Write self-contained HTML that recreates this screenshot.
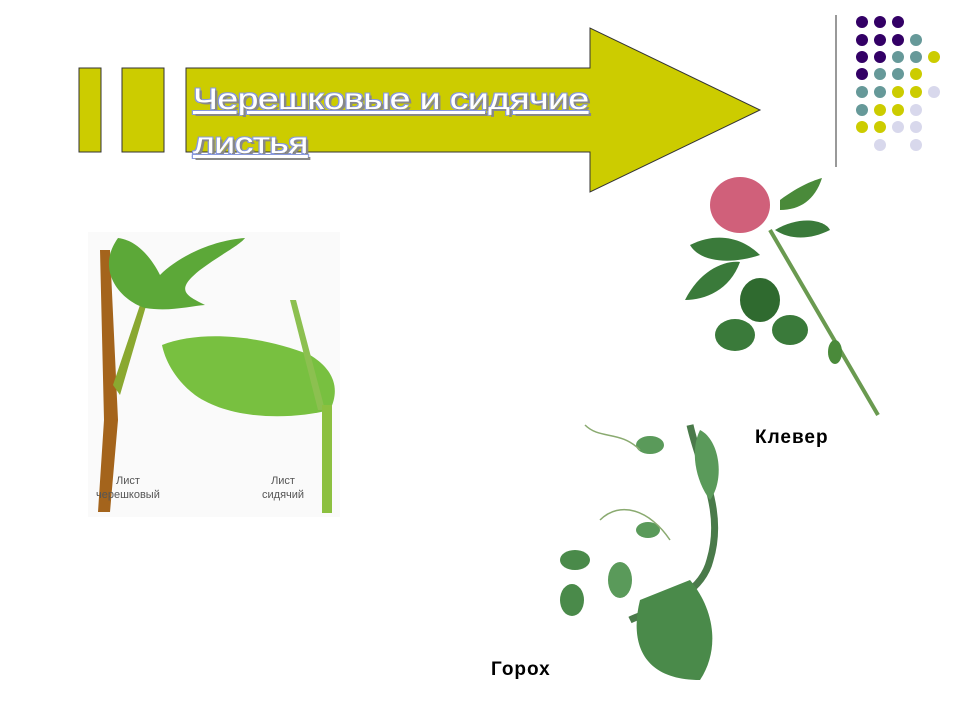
<!DOCTYPE html>
<html><head><meta charset="utf-8"><style>
body{margin:0;width:960px;height:720px;background:#fff;overflow:hidden;position:relative;font-family:"Liberation Sans",sans-serif}
.t{position:absolute;left:193px;top:78px;font-size:30px;line-height:44px;color:#fff;text-decoration:underline;letter-spacing:-0.5px;text-shadow:2px 2px 0 #888,-1px -1px 0 #8899dd,1px -1px 0 #8899dd,-1px 1px 0 #8899dd;transform:scaleX(1.25);transform-origin:0 0;white-space:nowrap}
.l{position:absolute;font-size:11px;color:#555;text-align:center;line-height:14px}
.k{position:absolute;font-size:19px;color:#000;letter-spacing:1px;font-weight:bold}
</style></head><body>
<svg width="960" height="720" style="position:absolute;left:0;top:0">
<rect x="79" y="68" width="22" height="84" fill="#cccc00" stroke="#333" stroke-width="1"/>
<rect x="122" y="68" width="42" height="84" fill="#cccc00" stroke="#333" stroke-width="1"/>
<polygon points="186,68 590,68 590,28 760,110 590,192 590,152 186,152" fill="#cccc00" stroke="#333" stroke-width="1"/>
<line x1="836" y1="15" x2="836" y2="167" stroke="#333" stroke-width="1"/>
<g>
<circle cx="862" cy="22" r="6" fill="#330066"/><circle cx="880" cy="22" r="6" fill="#330066"/><circle cx="898" cy="22" r="6" fill="#330066"/>
<circle cx="862" cy="40" r="6" fill="#330066"/><circle cx="880" cy="40" r="6" fill="#330066"/><circle cx="898" cy="40" r="6" fill="#330066"/><circle cx="916" cy="40" r="6" fill="#669999"/>
<circle cx="862" cy="57" r="6" fill="#330066"/><circle cx="880" cy="57" r="6" fill="#330066"/><circle cx="898" cy="57" r="6" fill="#669999"/><circle cx="916" cy="57" r="6" fill="#669999"/><circle cx="934" cy="57" r="6" fill="#cccc00"/>
<circle cx="862" cy="74" r="6" fill="#330066"/><circle cx="880" cy="74" r="6" fill="#669999"/><circle cx="898" cy="74" r="6" fill="#669999"/><circle cx="916" cy="74" r="6" fill="#cccc00"/>
<circle cx="862" cy="92" r="6" fill="#669999"/><circle cx="880" cy="92" r="6" fill="#669999"/><circle cx="898" cy="92" r="6" fill="#cccc00"/><circle cx="916" cy="92" r="6" fill="#cccc00"/><circle cx="934" cy="92" r="6" fill="#d8d8ec"/>
<circle cx="862" cy="110" r="6" fill="#669999"/><circle cx="880" cy="110" r="6" fill="#cccc00"/><circle cx="898" cy="110" r="6" fill="#cccc00"/><circle cx="916" cy="110" r="6" fill="#d8d8ec"/>
<circle cx="862" cy="127" r="6" fill="#cccc00"/><circle cx="880" cy="127" r="6" fill="#cccc00"/><circle cx="898" cy="127" r="6" fill="#d8d8ec"/><circle cx="916" cy="127" r="6" fill="#d8d8ec"/>
<circle cx="880" cy="145" r="6" fill="#d8d8ec"/><circle cx="916" cy="145" r="6" fill="#d8d8ec"/>
</g>
<rect x="88" y="232" width="252" height="285" fill="#fafafa"/>
<path d="M100,250 L110,250 L118,420 L110,512 L98,512 L104,420 Z" fill="#a4641c"/>
<path d="M113,385 L140,305 L146,306 L120,395 Z" fill="#8aa830"/>
<path d="M118,238 C95,270 120,300 145,308 C170,312 190,306 205,305 C185,295 175,290 200,270 C220,255 240,245 245,238 C215,240 180,255 160,275 C150,255 135,240 118,238 Z" fill="#5ca838"/>
<path d="M162,345 C200,330 260,335 310,355 C335,370 340,390 330,410 C290,420 230,420 195,395 C175,380 165,360 162,345 Z" fill="#78c040"/>
<path d="M290,300 L296,300 L325,410 L318,410 Z" fill="#8cc050"/>
<rect x="322" y="405" width="10" height="108" fill="#8cc040"/>
</svg>
<div class="t">Черешковые и сидячие<br>листья</div>
<div class="l" style="left:96px;top:474px">Лист<br>черешковый</div>
<div class="l" style="left:262px;top:474px">Лист<br>сидячий</div>
<svg width="960" height="720" style="position:absolute;left:0;top:0">
<path d="M770,230 L878,415" stroke="#6a9a50" stroke-width="4" fill="none"/>
<ellipse cx="740" cy="205" rx="30" ry="28" fill="#d0607a"/>
<path d="M690,245 C720,230 745,240 760,255 C730,265 700,262 690,245Z" fill="#3a7a3a"/>
<path d="M685,300 C700,270 725,260 740,262 C730,290 705,300 685,300Z" fill="#3a7a3a"/>
<path d="M780,200 C800,185 815,180 822,178 C815,200 800,210 780,210Z" fill="#4a8a3a"/>
<path d="M775,230 C800,215 825,220 830,230 C810,240 790,240 775,230Z" fill="#3a7a3a"/>
<ellipse cx="760" cy="300" rx="20" ry="22" fill="#2f6a2f"/>
<ellipse cx="735" cy="335" rx="20" ry="16" fill="#3a7a3a"/>
<ellipse cx="790" cy="330" rx="18" ry="15" fill="#3a7a3a"/>
<ellipse cx="835" cy="352" rx="7" ry="12" fill="#4a8a3a"/>
<path d="M690,425 C700,470 725,510 710,560 C700,600 650,610 630,620" stroke="#4a7a4a" stroke-width="7" fill="none"/>
<path d="M640,600 C630,640 640,680 700,680 C720,650 715,610 690,580 Z" fill="#4a8a4a"/>
<path d="M700,430 C720,440 725,480 710,500 C695,480 690,450 700,430Z" fill="#5a9a5a"/>
<ellipse cx="575" cy="560" rx="15" ry="10" fill="#4a8a4a"/>
<ellipse cx="572" cy="600" rx="12" ry="16" fill="#4a8a4a"/>
<ellipse cx="620" cy="580" rx="12" ry="18" fill="#5a9a5a"/>
<ellipse cx="648" cy="530" rx="12" ry="8" fill="#5a9a5a"/>
<ellipse cx="650" cy="445" rx="14" ry="9" fill="#5a9a5a"/>
<path d="M585,425 C600,440 620,430 640,450 M600,520 C620,500 650,510 670,540" stroke="#8aaa70" stroke-width="1.5" fill="none"/>
</svg>
<div class="k" style="left:755px;top:427px">Клевер</div>
<div class="k" style="left:491px;top:659px">Горох</div>
</body></html>
